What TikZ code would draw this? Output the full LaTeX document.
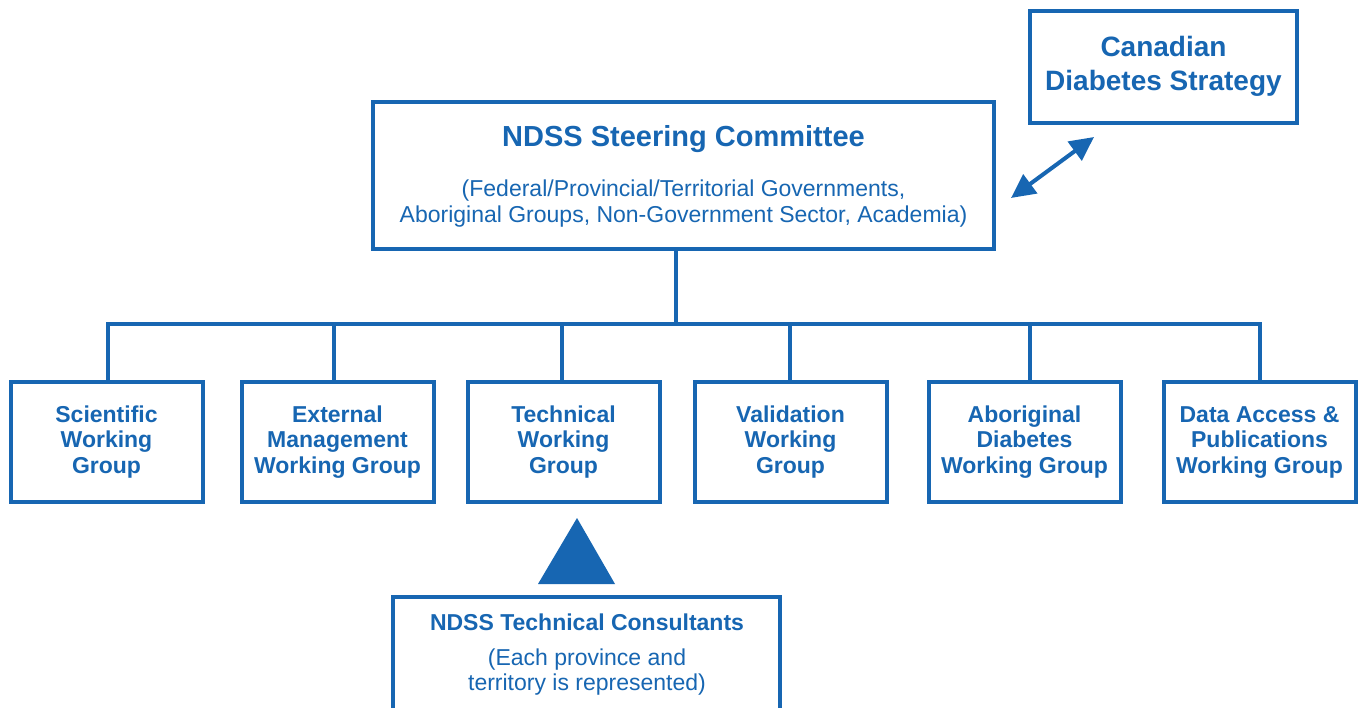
\documentclass[tikz,border=0pt]{standalone}
\usepackage{fontspec}
\setmainfont{Liberation Sans}
\usetikzlibrary{arrows.meta}
\definecolor{ndss}{RGB}{23,102,178}
\begin{document}
\begin{tikzpicture}[x=1pt,y=-1pt,
  box/.style={draw=ndss,line width=4pt,inner sep=0pt,outer sep=0pt},
  wg/.style={box,minimum width=192pt,minimum height=120pt},
  lbl/.style={text=ndss,inner sep=0pt,anchor=base,font=\fontsize{23}{26}\selectfont\bfseries},
  sub/.style={text=ndss,inner sep=0pt,anchor=base,font=\fontsize{23}{26}\selectfont},
  conn/.style={draw=ndss,line width=4pt}]
\clip (0,0) rectangle (1359,708);
\fill[white] (0,0) rectangle (1359,708);

% Steering committee
\node[box,minimum width=621pt,minimum height=147pt] (steer) at (683.5,175.5) {};
\node[lbl,font=\fontsize{29}{32}\selectfont\bfseries] (steer-t) at (683.5,146.7) {NDSS Steering Committee};
\node[sub] (steer-s1) at (683.5,196.7) {(Federal/Provincial/Territorial Governments,};
\node[sub] (steer-s2) at (683.5,223) {Aboriginal Groups, Non-Government Sector, Academia)};

% Canadian Diabetes Strategy
\node[box,minimum width=267pt,minimum height=112pt] (cds) at (1163.5,67) {};
\node[lbl,font=\fontsize{28}{32}\selectfont\bfseries] (cds-1) at (1163.5,57) {Canadian};
\node[lbl,font=\fontsize{28}{32}\selectfont\bfseries] (cds-2) at (1163.5,90.7) {Diabetes Strategy};

\coordinate (ae) at (1094,137);
\coordinate (aw) at (1011,198);
\draw[conn,{Triangle[length=24pt,width=23pt]}-{Triangle[length=24pt,width=23pt]}] (aw) -- (ae);

% Working groups
\coordinate (hub) at (676,324);
\foreach \n/\x/\s/\a/\b/\c in {
  1/106.5/1.5/Scientific/Working/Group,
  2/337.5/-3.5/External/Management/Working Group,
  3/563.5/-1.5/Technical/Working/Group,
  4/790.5/-0.5/Validation/Working/Group,
  5/1024.5/5.5/Aboriginal/Diabetes/Working Group,
  6/1259.5/0.5/Data Access \&/Publications/Working Group}{
  \node[wg] (b\n) at (\x,441.5) {};
  \node[lbl] (b\n-1) at (\x,422) {\a};
  \node[lbl] (b\n-2) at (\x,447.5) {\b};
  \node[lbl] (b\n-3) at (\x,473) {\c};
  \coordinate (d\n) at ([xshift=\s pt]b\n.north);
}
\draw[conn] (hub |- steer.south) -- (hub);
\draw[conn] (d1) |- (d6 |- hub) -- (d6);
\foreach \n in {2,3,4,5}{\draw[conn] (d\n) -- (d\n |- hub);}

% Technical consultants
\fill[ndss] (577,518) -- (615,584) -- (538,584) -- cycle;
\node[box,minimum width=387pt,minimum height=140pt] (cons) at (586.5,667) {};
\node[lbl] (cons-t) at (587,630) {NDSS Technical Consultants};
\node[sub] (cons-s1) at (587,665) {(Each province and};
\node[sub] (cons-s2) at (587,690.7) {territory is represented)};
\end{tikzpicture}
\end{document}
